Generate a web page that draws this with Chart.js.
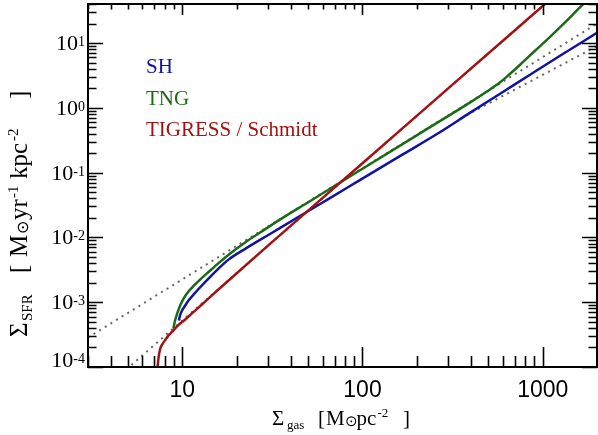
<!DOCTYPE html>
<html>
<head>
<meta charset="utf-8">
<script src="https://cdn.jsdelivr.net/npm/chart.js@4.4.1/dist/chart.umd.min.js"></script>
<style>
  html, body { margin: 0; padding: 0; background: #fff; }
  #wrap { width: 598px; height: 435px; }
</style>
</head>
<body>
<div id="wrap"><canvas id="sfr-chart"></canvas></div>
<script>
// gas surface density [Msun pc^-2] and SFR surface density [Msun yr^-1 kpc^-2]
const shGas  = [9.58, 9.72, 9.91, 10.30, 10.83, 11.55, 12.31, 13.98, 15.89, 18.05, 22.43, 30.84, 45.22, 66.31, 97.2, 162, 270, 396, 580, 850, 1247, 2000];
const shSfr  = [5.23e-4, 6.24e-4, 7.19e-4, 8.59e-4, 1.06e-3, 1.31e-3, 1.60e-3, 2.32e-3, 3.30e-3, 4.54e-3, 6.70e-3, 1.14e-2, 2.16e-2, 4.08e-2, 7.73e-2, 0.181, 0.423, 0.844, 1.65, 3.24, 6.35, 14.35];

const tngGas = [8.93, 9.12, 9.42, 9.79, 10.17, 10.83, 11.55, 12.31, 13.98, 15.89, 18.52, 22.43, 27.16, 35.0, 50, 100, 200, 400, 490, 580, 659, 749, 906, 1098, 1329, 1651, 1750];
const tngSfr = [3.94e-4, 5.23e-4, 6.95e-4, 9.23e-4, 1.14e-3, 1.46e-3, 1.78e-3, 2.12e-3, 2.92e-3, 4.01e-3, 5.71e-3, 8.44e-3, 1.20e-2, 1.90e-2, 3.49e-2, 0.1146, 0.376, 1.233, 1.78, 2.48, 3.36, 4.62, 7.59, 12.45, 20.8, 38.0, 44];

const tigGas = [7.25, 7.30, 7.39, 7.55, 7.78, 8.05, 8.40, 8.76, 9.54, 10.39, 11.40, 12.63, 14.35, 17.37, 30, 100, 300, 1100];
const tigSfr = [8e-5, 1.0e-4, 1.41e-4, 1.92e-4, 2.28e-4, 2.62e-4, 3.08e-4, 3.48e-4, 4.46e-4, 5.42e-4, 6.84e-4, 8.83e-4, 1.22e-3, 1.96e-3, 7.52e-3, 0.1396, 2.01, 47];

// power-law asymptotes (dotted)
const tngFitGas = [3, 2000];
const tngFitSfr = [2.85e-4, 19.9];
const tigFitGas = [4.9, 1100];
const tigFitSfr = [9.2e-5, 47];
const shFitGas  = [350, 2000];
const shFitSfr  = [0.689, 8.95];

// axis ticks
const xMajor = [10, 100, 1000];
const xMinor = [3, 4, 5, 6, 7, 8, 9, 20, 30, 40, 50, 60, 70, 80, 90, 200, 300, 400, 500, 600, 700, 800, 900, 2000];
const yExp   = [-4, -3, -2, -1, 0, 1];
const yMinorDigits = [2, 3, 4, 5, 6, 7, 8, 9];

const legendLabels = ['SH', 'TNG', 'TIGRESS / Schmidt'];

const BLUE = '#1212a2';
const GREEN = '#1b6b14';
const RED = '#a31212';
const DOT = '#666666';

const SERIF = '"Liberation Serif", "Times New Roman", serif';
const SANS = '"Liberation Sans", Arial, sans-serif';

function pts(xs, ys) {
    return xs.map((v, i) => ({ x: v, y: ys[i] }));
}

function curve(label, xs, ys, color, order) {
    return {
        label: label,
        data: pts(xs, ys),
        borderColor: color,
        borderWidth: 2.5,
        pointRadius: 0,
        showLine: true,
        tension: 0.3,
        cubicInterpolationMode: 'monotone',
        order: order
    };
}

function dotted(xs, ys) {
    return {
        data: pts(xs, ys),
        borderColor: DOT,
        borderWidth: 2,
        borderDash: [2, 4.6],
        pointRadius: 0,
        showLine: true,
        order: 5
    };
}

// pieces of a title: text, font size, offset along the baseline, shift across it
function drawPieces(ctx, pieces, x0, y0) {
    pieces.forEach(p => {
        ctx.font = p.size + 'px ' + SERIF;
        ctx.fillText(p.t, x0 + p.at, y0 + (p.dy || 0));
    });
}

const xTitle = [
    { t: 'Σ', size: 21, at: 0 },
    { t: 'gas', size: 13, at: 15, dy: 4 },
    { t: '[', size: 21, at: 46 },
    { t: 'M', size: 21, at: 54 },
    { t: '⊙', size: 15, at: 73, dy: 1 },
    { t: 'pc', size: 21, at: 84.5 },
    { t: '-2', size: 13, at: 105.5, dy: -8 },
    { t: ']', size: 21, at: 131 }
];

const yTitle = [
    { t: 'Σ', size: 25, at: 0 },
    { t: 'SFR', size: 15, at: 16, dy: 5 },
    { t: '[', size: 25, at: 64 },
    { t: 'M', size: 25, at: 80 },
    { t: '⊙', size: 16, at: 103, dy: 1 },
    { t: 'yr', size: 25, at: 117 },
    { t: '-1', size: 15, at: 139, dy: -9 },
    { t: 'kpc', size: 25, at: 158 },
    { t: '-2', size: 15, at: 196, dy: -9 },
    { t: ']', size: 25, at: 238 }
];

const frameAndText = {
    id: 'frameAndText',
    afterDatasetsDraw(chart) {
        const { ctx, chartArea: a, scales } = chart;
        const xs = scales.x, ys = scales.y;
        ctx.save();

        // inward ticks on all four sides
        ctx.strokeStyle = '#000';
        ctx.lineWidth = 1.6;
        ctx.beginPath();
        const xTick = (v, lb, lt) => {
            const p = Math.round(xs.getPixelForValue(v)) + 0.5;
            ctx.moveTo(p, a.bottom); ctx.lineTo(p, a.bottom - lb);
            ctx.moveTo(p, a.top); ctx.lineTo(p, a.top + lt);
        };
        const yTick = (v, ll, lr) => {
            const p = Math.round(ys.getPixelForValue(v)) + 0.5;
            ctx.moveTo(a.left, p); ctx.lineTo(a.left + ll, p);
            ctx.moveTo(a.right, p); ctx.lineTo(a.right - lr, p);
        };
        xMajor.forEach(v => xTick(v, 20, 11));
        xMinor.forEach(v => xTick(v, 11, 5.5));
        yExp.forEach(e => {
            yTick(Math.pow(10, e), 15, 15);
            yMinorDigits.forEach(d => {
                const v = d * Math.pow(10, e);
                if (v <= ys.max) yTick(v, 8.5, 8.5);
            });
        });
        ctx.stroke();

        ctx.lineWidth = 2;
        ctx.strokeRect(a.left, a.top, a.right - a.left, a.bottom - a.top);

        ctx.fillStyle = '#000';
        ctx.textBaseline = 'alphabetic';

        // x tick labels
        ctx.font = '23px ' + SANS;
        ctx.textAlign = 'center';
        xMajor.forEach(v => ctx.fillText(String(v), xs.getPixelForValue(v), a.bottom + 30));

        // y tick labels as 10^n, right aligned against the axis, kept above the bottom edge
        ctx.textAlign = 'left';
        yExp.forEach(e => {
            const py = ys.getPixelForValue(Math.pow(10, e));
            const base = Math.min(py + 7, a.bottom);
            ctx.font = '22px ' + SERIF;
            const w10 = ctx.measureText('10').width;
            ctx.font = '14px ' + SERIF;
            const wExp = ctx.measureText(String(e)).width;
            const x0 = a.left - 3 - w10 - wExp;
            ctx.font = '22px ' + SERIF;
            ctx.fillText('10', x0, base);
            ctx.font = '14px ' + SERIF;
            ctx.fillText(String(e), x0 + w10, base - 4);
        });

        // axis titles
        drawPieces(ctx, xTitle, 272, 425);

        ctx.save();
        ctx.translate(27, 337);
        ctx.rotate(-Math.PI / 2);
        drawPieces(ctx, yTitle, 0, 0);
        ctx.restore();

        // legend
        ctx.font = '21px ' + SERIF;
        [BLUE, GREEN, RED].forEach((c, i) => {
            ctx.fillStyle = c;
            ctx.fillText(legendLabels[i], 146, 73 + i * 31.5);
        });

        ctx.restore();
    }
};

new Chart(document.getElementById('sfr-chart'), {
    type: 'scatter',
    data: {
        datasets: [
            curve('TIGRESS / Schmidt', tigGas, tigSfr, RED, 1),
            curve('TNG', tngGas, tngSfr, GREEN, 2),
            curve('SH', shGas, shSfr, BLUE, 3),
            dotted(tngFitGas, tngFitSfr),
            dotted(tigFitGas, tigFitSfr),
            dotted(shFitGas, shFitSfr)
        ]
    },
    options: {
        responsive: true,
        maintainAspectRatio: false,
        animation: false,
        layout: { padding: { left: 88, right: 1, top: 4, bottom: 68 } },
        plugins: {
            legend: { display: false },
            tooltip: { enabled: false }
        },
        scales: {
            x: { type: 'logarithmic', min: 3, max: 2000, display: false },
            y: { type: 'logarithmic', min: 1e-4, max: 40, display: false }
        }
    },
    plugins: [frameAndText]
});
</script>
</body>
</html>
